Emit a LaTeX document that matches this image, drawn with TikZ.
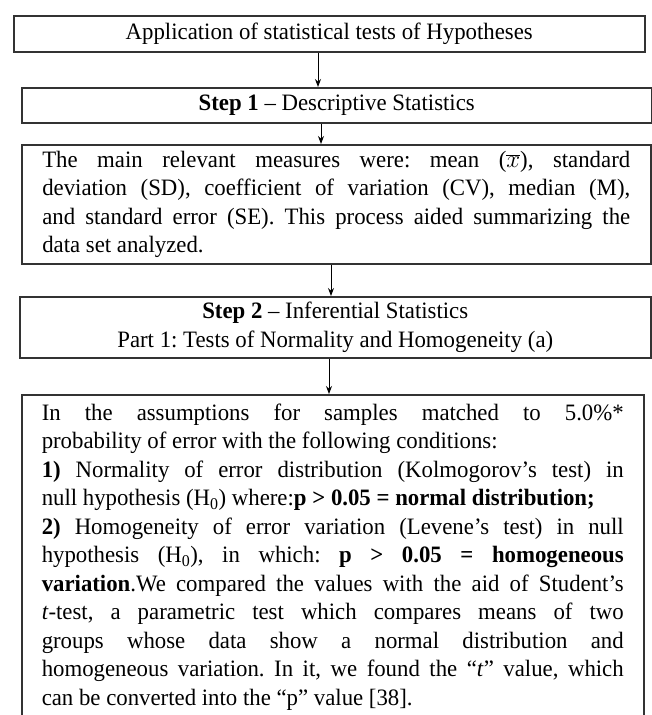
\documentclass[tikz,border=0pt]{standalone}
\usepackage{fontspec}
\setmainfont{Liberation Serif}[FakeStretch=0.97]
\usetikzlibrary{arrows.meta}
\setlength{\parindent}{0pt}
\frenchspacing
\hyphenpenalty=10000

\begin{document}
\begin{tikzpicture}[x=1pt, y=-1pt, >={Stealth[length=8pt, width=6pt]},
		box/.style={draw=black!80, line width=1.5pt, inner sep=0pt, anchor=north west, font=\fontsize{23.5}{28.5}\selectfont},
		textbox/.style={box, align=justify, inner xsep=20pt, inner ysep=9pt},
		link/.style={->, line width=1pt}]
	\useasboundingbox (0, 0) rectangle (652, 715);
	
	\node[box, minimum width=631pt, minimum height=36pt] (title) at (13, 15) {Application of statistical tests of Hypotheses};
	\node[box, minimum width=630pt, minimum height=35pt] (stepone) at (21, 87) {\textbf{Step 1} -- Descriptive Statistics};
	\node[box, align=justify, text width=588pt, inner xsep=20.5pt, minimum height=119pt] (measures) at (21, 144)
		{The main relevant measures were: mean ($\overline{x}$), standard\linebreak deviation (SD), coefficient of variation (CV), median (M),\linebreak and standard error (SE). This process aided summarizing the\linebreak data set analyzed.};
	\node[box, align=center, minimum width=631pt, minimum height=61pt] (steptwo) at (19, 296)
		{\textbf{Step 2} -- Inferential Statistics\\ Part 1: Tests of Normality and Homogeneity (a)};
	\node[textbox, text width=582pt] (assump) at (21, 394)
		{In the assumptions for samples matched to 5.0\%*\linebreak probability of error with the following conditions:\\
		\textbf{1)} Normality of error distribution (Kolmogorov’s test) in\linebreak null hypothesis (H\textsubscript{0}) where:\textbf{p > 0.05 = normal distribution;}\\
		\textbf{2)} Homogeneity of error variation (Levene’s test) in null\linebreak hypothesis (H\textsubscript{0}), in which: \textbf{p > 0.05 = homogeneous}\linebreak \textbf{variation}.We compared the values with the aid of Student’s\linebreak \textit{t}-test, a parametric test which compares means of two\linebreak groups whose data show a normal distribution and\linebreak homogeneous variation. In it, we found the “\textit{t}” value, which\linebreak can be converted into the “p” value [38].\rule[-14pt]{0pt}{14pt}};
	
	\coordinate (a1) at (318, 0);
	\coordinate (a2) at (321, 0);
	\coordinate (a3) at (331, 0);
	\coordinate (a4) at (329, 0);
	\draw[link] (title.south -| a1) -- (stepone.north -| a1);
	\draw[link] (stepone.south -| a2) -- (measures.north -| a2);
	\draw[link] (measures.south -| a3) -- (steptwo.north -| a3);
	\draw[link] (steptwo.south -| a4) -- (assump.north -| a4);
\end{tikzpicture}
\end{document}
